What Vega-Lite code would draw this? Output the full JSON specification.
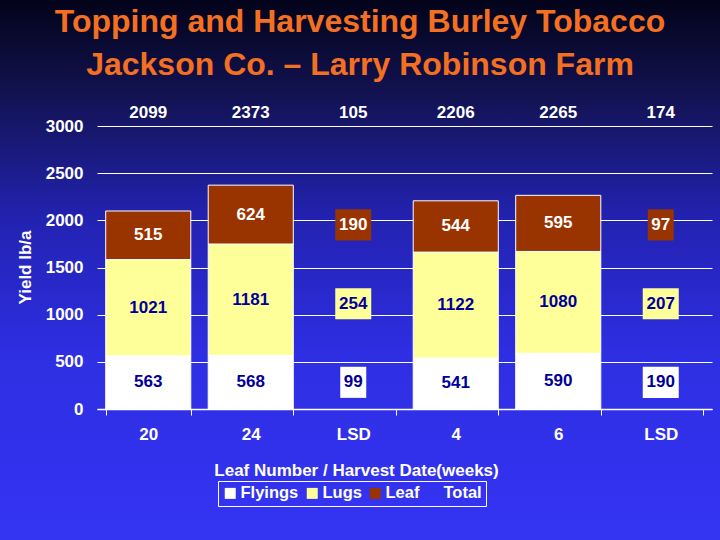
{
  "$schema": "https://vega.github.io/schema/vega-lite/v6.json",
  "width": 720,
  "height": 540,
  "autosize": "none",
  "padding": 0,
  "background": "#1c1c90",
  "view": {
    "stroke": null,
    "fill": {
      "gradient": "linear", "x1": 0, "y1": 0, "x2": 0, "y2": 1,
      "stops": [
        {"offset": 0, "color": "#03031a"},
        {"offset": 0.17, "color": "#121250"},
        {"offset": 0.4, "color": "#2222b0"},
        {"offset": 0.65, "color": "#2e2ee2"},
        {"offset": 1, "color": "#3434f4"}
      ]
    }
  },
  "title": {
    "text": ["Topping and Harvesting Burley Tobacco", "Jackson Co. – Larry Robinson Farm"],
    "font": "Liberation Sans",
    "fontSize": 32,
    "fontWeight": "bold",
    "color": "#f36f21",
    "anchor": "middle",
    "frame": "group",
    "lineHeight": 43,
    "offset": -82
  },
  "data": {
    "values": [
      {"cat": "20", "comp": "Flyings", "value": 563},
      {"cat": "20", "comp": "Lugs", "value": 1021},
      {"cat": "20", "comp": "Leaf", "value": 515},
      {"cat": "20", "comp": "Total", "value": 2099},
      {"cat": "24", "comp": "Flyings", "value": 568},
      {"cat": "24", "comp": "Lugs", "value": 1181},
      {"cat": "24", "comp": "Leaf", "value": 624},
      {"cat": "24", "comp": "Total", "value": 2373},
      {"cat": "LSD (leaf number)", "comp": "Flyings", "value": 99},
      {"cat": "LSD (leaf number)", "comp": "Lugs", "value": 254},
      {"cat": "LSD (leaf number)", "comp": "Leaf", "value": 190},
      {"cat": "LSD (leaf number)", "comp": "Total", "value": 105},
      {"cat": "4", "comp": "Flyings", "value": 541},
      {"cat": "4", "comp": "Lugs", "value": 1122},
      {"cat": "4", "comp": "Leaf", "value": 544},
      {"cat": "4", "comp": "Total", "value": 2206},
      {"cat": "6", "comp": "Flyings", "value": 590},
      {"cat": "6", "comp": "Lugs", "value": 1080},
      {"cat": "6", "comp": "Leaf", "value": 595},
      {"cat": "6", "comp": "Total", "value": 2265},
      {"cat": "LSD (harvest date)", "comp": "Flyings", "value": 190},
      {"cat": "LSD (harvest date)", "comp": "Lugs", "value": 207},
      {"cat": "LSD (harvest date)", "comp": "Leaf", "value": 97},
      {"cat": "LSD (harvest date)", "comp": "Total", "value": 174}
    ]
  },
  "transform": [
    {"calculate": "indexof(['Flyings','Lugs','Leaf'], datum.comp)", "as": "ord"},
    {"calculate": "datum.comp === 'Total'", "as": "isTotal"},
    {"calculate": "indexof(datum.cat, 'LSD') === 0", "as": "isLSD"},
    {"stack": "value", "groupby": ["cat", "isTotal"], "sort": [{"field": "ord", "order": "ascending"}], "as": ["y0", "y1"]},
    {"calculate": "(datum.y0 + datum.y1) / 2", "as": "mid"},
    {"calculate": "(datum.isLSD || datum.isTotal) ? null : datum.mid", "as": "midT"},
    {"joinaggregate": [{"op": "mean", "field": "midT", "as": "avgMid"}], "groupby": ["comp"]},
    {"calculate": "datum.isLSD ? datum.avgMid : datum.mid", "as": "labelY"},
    {"calculate": "datum.labelY - 165", "as": "boxLo"},
    {"calculate": "datum.labelY + 165", "as": "boxHi"},
    {"calculate": "length(toString(datum.value))", "as": "digits"}
  ],
  "layer": [
    {
      "transform": [{"filter": "!datum.isTotal && !datum.isLSD"}],
      "mark": {"type": "bar", "stroke": "white", "strokeWidth": 1},
      "encoding": {
        "x": {
          "field": "cat", "type": "nominal",
          "sort": ["20", "24", "LSD (leaf number)", "4", "6", "LSD (harvest date)"],
          "scale": {"type": "band", "range": [97, 712], "paddingInner": 0.17, "paddingOuter": 0.085},
          "axis": {
            "title": "Leaf Number / Harvest Date(weeks)",
            "labelExpr": "indexof(datum.label, 'LSD') === 0 ? 'LSD' : datum.label",
            "offset": -131,
            "labelAngle": 0,
            "domainColor": "white",
            "domainWidth": 1.5,
            "tickColor": "white",
            "tickSize": 6,
            "tickBand": "extent",
            "labelPadding": 11,
            "labelColor": "white",
            "labelFont": "Liberation Sans",
            "labelFontSize": 17,
            "labelFontWeight": "bold",
            "titleColor": "white",
            "titleFont": "Liberation Sans",
            "titleFontSize": 17,
            "titleFontWeight": "bold",
            "titleX": 356,
            "titleY": 66,
            "titleBaseline": "alphabetic",
            "titleAlign": "center"
          }
        },
        "y": {
          "field": "y0", "type": "quantitative",
          "scale": {"domain": [0, 3000], "range": [409, 126], "nice": false, "zero": true},
          "axis": {
            "title": "Yield lb/a",
            "values": [0, 500, 1000, 1500, 2000, 2500, 3000],
            "format": "d",
            "offset": -97,
            "domain": false,
            "ticks": false,
            "labelPadding": 14,
            "grid": true,
            "gridColor": "white",
            "gridWidth": 1,
            "gridOpacity": 1,
            "labelColor": "white",
            "labelFont": "Liberation Sans",
            "labelFontSize": 17,
            "labelFontWeight": "bold",
            "titleColor": "white",
            "titleFont": "Liberation Sans",
            "titleFontSize": 17,
            "titleFontWeight": "bold",
            "titleX": -67,
            "titleY": 267,
            "titleAngle": -90,
            "titleBaseline": "alphabetic",
            "titleAlign": "center"
          }
        },
        "y2": {"field": "y1"},
        "color": {
          "field": "comp", "type": "nominal",
          "scale": {"domain": ["Flyings", "Lugs", "Leaf", "Total"], "range": ["#ffffff", "#ffff99", "#993300", "rgba(0,0,0,0)"]},
          "legend": {
            "title": null,
            "orient": "none",
            "legendX": 218,
            "legendY": 481,
            "direction": "horizontal",
            "symbolType": "square",
            "symbolSize": 121,
            "symbolStrokeWidth": 0,
            "symbolOpacity": 1,
            "labelColor": "white",
            "labelFont": "Liberation Sans",
            "labelFontSize": 16.5,
            "labelFontWeight": "bold",
            "labelOffset": 2,
            "columnPadding": 5,
            "padding": 4,
            "strokeColor": "white"
          }
        }
      }
    },
    {
      "transform": [{"filter": "!datum.isTotal && datum.isLSD"}],
      "mark": {"type": "bar"},
      "encoding": {
        "x": {"field": "cat", "type": "nominal", "sort": ["20", "24", "LSD (leaf number)", "4", "6", "LSD (harvest date)"]},
        "y": {"field": "boxLo", "type": "quantitative"},
        "y2": {"field": "boxHi"},
        "size": {"field": "digits", "type": "quantitative", "scale": {"domain": [2, 3], "range": [26, 36]}, "legend": null},
        "color": {"field": "comp", "type": "nominal"}
      }
    },
    {
      "transform": [{"filter": "!datum.isTotal"}],
      "mark": {"type": "text", "font": "Liberation Sans", "fontSize": 17, "fontWeight": "bold", "baseline": "middle", "align": "center"},
      "encoding": {
        "x": {"field": "cat", "type": "nominal", "sort": ["20", "24", "LSD (leaf number)", "4", "6", "LSD (harvest date)"]},
        "y": {"field": "labelY", "type": "quantitative"},
        "text": {"field": "value", "type": "quantitative"},
        "color": {"condition": {"test": "datum.comp === 'Leaf'", "value": "white"}, "value": "#000099"}
      }
    },
    {
      "transform": [{"filter": "datum.isTotal"}],
      "mark": {"type": "text", "font": "Liberation Sans", "fontSize": 17, "fontWeight": "bold", "baseline": "middle", "align": "center", "color": "white"},
      "encoding": {
        "x": {"field": "cat", "type": "nominal", "sort": ["20", "24", "LSD (leaf number)", "4", "6", "LSD (harvest date)"]},
        "y": {"datum": 3140, "type": "quantitative"},
        "text": {"field": "value", "type": "quantitative"}
      }
    }
  ]
}
